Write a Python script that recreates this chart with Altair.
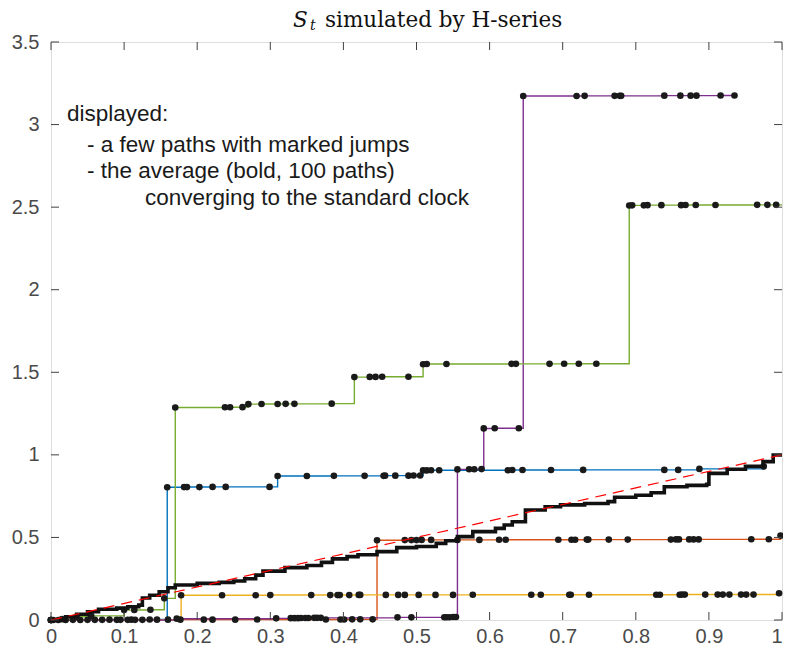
import altair as alt
import pandas as pd

# ---------------- data ----------------
x_ticks = [0, 0.1, 0.2, 0.3, 0.4, 0.5, 0.6, 0.7, 0.8, 0.9, 1]
y_ticks = [0, 0.5, 1, 1.5, 2, 2.5, 3, 3.5]

path_names = ["blue", "orange", "yellow", "purple", "green"]
path_colors = ["#0072BD", "#D95319", "#EDB120", "#7E2F8E", "#77AC30"]

blue_t = [0, 0.003, 0.03, 0.05, 0.08, 0.11, 0.135,
          0.159, 0.182, 0.186, 0.203, 0.221, 0.239, 0.299,
          0.310, 0.350, 0.387, 0.429, 0.455, 0.457, 0.471, 0.489, 0.496, 0.505,
          0.509, 0.514, 0.520, 0.531, 0.625, 0.631, 0.645, 0.684, 0.728, 0.839, 0.858,
          0.887, 0.975]
blue_v = [0, 0, 0.001, 0.001, 0.002, 0.002, 0.003,
          0.804, 0.805, 0.805, 0.805, 0.806, 0.806, 0.806,
          0.872, 0.872, 0.873, 0.873, 0.873, 0.874, 0.874, 0.874, 0.875, 0.875,
          0.906, 0.906, 0.907, 0.907, 0.907, 0.908, 0.908, 0.908, 0.909, 0.909, 0.909,
          0.915, 0.930]
blue_end = 0.975

orange_t = [0, 0.01, 0.04, 0.07, 0.09, 0.105, 0.125, 0.177, 0.209, 0.221, 0.252, 0.282,
            0.376, 0.396, 0.401, 0.412, 0.423, 0.440,
            0.446, 0.484, 0.493, 0.500, 0.507, 0.520, 0.556, 0.586, 0.613, 0.622, 0.694,
            0.712, 0.717, 0.733, 0.735, 0.763, 0.789, 0.848, 0.855, 0.859, 0.873, 0.879,
            0.886, 0.958, 0.982,
            0.998]
orange_v = [0, 0, 0, 0.001, 0.001, 0.001, 0.001, 0.002, 0.002, 0.002, 0.002, 0.003,
            0.003, 0.003, 0.003, 0.004, 0.004, 0.004,
            0.483, 0.484, 0.484, 0.484, 0.485, 0.485, 0.485, 0.485, 0.486, 0.486, 0.486,
            0.486, 0.486, 0.487, 0.487, 0.487, 0.487, 0.487, 0.488, 0.488, 0.488, 0.488,
            0.488, 0.489, 0.489,
            0.511]
orange_end = 1.0

yellow_t = [0, 0.02, 0.06, 0.095, 0.115, 0.145, 0.16,
            0.178, 0.234, 0.280, 0.300, 0.356, 0.382, 0.392, 0.395, 0.408, 0.421, 0.423,
            0.458, 0.475, 0.484, 0.503, 0.526, 0.550, 0.577, 0.657, 0.670, 0.709, 0.711,
            0.736, 0.828, 0.833, 0.860, 0.863, 0.867, 0.895, 0.912, 0.919, 0.928, 0.944,
            0.951, 0.961,
            0.996]
yellow_v = [0, 0, 0.001, 0.001, 0.001, 0.002, 0.002,
            0.150, 0.150, 0.150, 0.151, 0.151, 0.151, 0.151, 0.151, 0.151, 0.152, 0.152,
            0.152, 0.152, 0.152, 0.152, 0.152, 0.152, 0.153, 0.153, 0.153, 0.153, 0.153,
            0.153, 0.153, 0.153, 0.153, 0.154, 0.154, 0.154, 0.154, 0.154, 0.154, 0.154,
            0.154, 0.154,
            0.162]
yellow_end = 1.0

purple_t = [0, 0.172, 0.308, 0.328, 0.333, 0.338, 0.342, 0.348, 0.352, 0.360, 0.364,
            0.369, 0.474, 0.493, 0.538, 0.541, 0.545, 0.550, 0.554,
            0.556, 0.572, 0.579, 0.589,
            0.592, 0.607, 0.640,
            0.646, 0.719, 0.730, 0.771, 0.778, 0.780, 0.839, 0.861, 0.875, 0.883, 0.916,
            0.935]
purple_v = [0, 0.008, 0.010, 0.011, 0.011, 0.011, 0.012, 0.012, 0.012, 0.013, 0.013,
            0.013, 0.016, 0.016, 0.017, 0.017, 0.017, 0.018, 0.018,
            0.912, 0.913, 0.913, 0.914,
            1.160, 1.161, 1.161,
            3.173, 3.173, 3.174, 3.174, 3.174, 3.174, 3.175, 3.175, 3.175, 3.175, 3.176,
            3.176]
purple_end = 0.935

green_t = [0, 0.015, 0.035, 0.055, 0.1, 0.114, 0.136, 0.155,
           0.170, 0.238, 0.245, 0.262,
           0.270, 0.288, 0.310, 0.321, 0.333, 0.384,
           0.415, 0.436, 0.444, 0.453, 0.489,
           0.509, 0.514, 0.541, 0.630, 0.636, 0.682, 0.702, 0.722, 0.746,
           0.791, 0.795, 0.811, 0.816, 0.835, 0.862, 0.868, 0.882, 0.909, 0.966, 0.980,
           0.992]
green_v = [0, 0.005, 0.02, 0.025, 0.06, 0.061, 0.062, 0.131,
           1.287, 1.288, 1.288, 1.289,
           1.307, 1.308, 1.308, 1.309, 1.309, 1.310,
           1.471, 1.472, 1.472, 1.473, 1.473,
           1.549, 1.550, 1.550, 1.551, 1.551, 1.551, 1.552, 1.552, 1.552,
           2.510, 2.511, 2.511, 2.512, 2.512, 2.512, 2.513, 2.513, 2.513, 2.514, 2.514,
           2.514]
green_end = 1.0

avg_t = [0, 0.02, 0.035, 0.05, 0.065, 0.09, 0.105, 0.12, 0.125, 0.135, 0.148, 0.16,
         0.17, 0.2, 0.23, 0.25, 0.265, 0.28, 0.29, 0.32, 0.35, 0.37, 0.385, 0.405, 0.42,
         0.446, 0.473, 0.5, 0.527, 0.54, 0.556, 0.577, 0.608, 0.62, 0.631, 0.649, 0.676,
         0.697, 0.73, 0.762, 0.771, 0.8, 0.821, 0.839, 0.87, 0.897, 0.9, 0.925, 0.95,
         0.974, 0.988, 1.0]
avg_v = [0, 0.02, 0.035, 0.05, 0.065, 0.072, 0.08, 0.09, 0.133, 0.15, 0.171, 0.195,
         0.212, 0.222, 0.228, 0.236, 0.25, 0.272, 0.296, 0.317, 0.33, 0.349, 0.37, 0.384,
         0.395, 0.414, 0.438, 0.445, 0.464, 0.48, 0.505, 0.535, 0.555, 0.575, 0.595,
         0.666, 0.686, 0.697, 0.705, 0.717, 0.743, 0.755, 0.771, 0.807, 0.815, 0.822,
         0.888, 0.913, 0.93, 0.959, 0.999, 0.999]

clock_t = [0, 1]
clock_v = [0, 1]

# ---------------- tables ----------------
paths = {
    "blue": (blue_t, blue_v, blue_end),
    "orange": (orange_t, orange_v, orange_end),
    "yellow": (yellow_t, yellow_v, yellow_end),
    "purple": (purple_t, purple_v, purple_end),
    "green": (green_t, green_v, green_end),
}
line_rows, dot_rows = [], []
for order, name in enumerate(path_names):
    ts, vs, end = paths[name]
    for t, v in zip(ts, vs):
        line_rows.append({"path": name, "t": t, "v": v, "o": order})
        dot_rows.append({"path": name, "t": t, "v": v})
    line_rows.append({"path": name, "t": end, "v": vs[-1], "o": order})
lines_df = pd.DataFrame(line_rows)
dots_df = pd.DataFrame(dot_rows)
avg_df = pd.DataFrame({"t": avg_t, "v": avg_v})
clock_df = pd.DataFrame({"t": clock_t, "v": clock_v})
xt_df = pd.DataFrame({"t": x_ticks})
yt_df = pd.DataFrame({"v": y_ticks})

W, H = 731, 578
AX = "#404040"
LBL = "#4a4a4a"
SANS = "Liberation Sans"
SERIF = "DejaVu Serif"

xs = alt.Scale(domain=[0, 1], nice=False, zero=False)
ys = alt.Scale(domain=[0, 3.5], nice=False, zero=False)

x_axis = alt.Axis(values=x_ticks, format="~g", grid=False, ticks=False, tickSize=0,
                  domain=False, labelFontSize=20, labelFont=SANS, labelColor=LBL,
                  labelPadding=22, labelBaseline="alphabetic",
                  labelAlign={"condition": {"test": "datum.value >= 1", "value": "right"},
                              "value": "center"},
                  labelOverlap=False, labelFlush=False, title=None)
y_axis = alt.Axis(values=y_ticks, format="~g", grid=False, ticks=False, tickSize=0,
                  domain=False, labelFontSize=20, labelFont=SANS, labelColor=LBL,
                  labelPadding=12, labelOverlap=False, labelFlush=False, title=None)

lines = alt.Chart(lines_df).mark_line(interpolate="step-after", strokeWidth=1.4).encode(
    x=alt.X("t:Q", scale=xs, axis=x_axis),
    y=alt.Y("v:Q", scale=ys, axis=y_axis),
    color=alt.Color("path:N", scale=alt.Scale(domain=path_names, range=path_colors),
                    legend=None),
    order="o:Q",
)

dots = alt.Chart(dots_df).mark_circle(size=44, color="#1a1a1a", opacity=1).encode(
    x=alt.X("t:Q", scale=xs), y=alt.Y("v:Q", scale=ys)
)

avg = alt.Chart(avg_df).mark_line(interpolate="step-after", strokeWidth=3.6,
                                  color="#111111").encode(
    x=alt.X("t:Q", scale=xs), y=alt.Y("v:Q", scale=ys)
)

clock = alt.Chart(clock_df).mark_line(color="#ff0000", strokeWidth=1.2,
                                      strokeDash=[11, 7]).encode(
    x=alt.X("t:Q", scale=xs), y=alt.Y("v:Q", scale=ys)
)

# inside ticks on all four sides
TL = 8
tick_bottom = alt.Chart(xt_df).mark_rule(color=AX, strokeWidth=1).encode(
    x=alt.X("t:Q", scale=xs), y=alt.value(H), y2=alt.value(H - TL))
tick_top = alt.Chart(xt_df).mark_rule(color=AX, strokeWidth=1).encode(
    x=alt.X("t:Q", scale=xs), y=alt.value(0), y2=alt.value(TL))
tick_left = alt.Chart(yt_df).mark_rule(color=AX, strokeWidth=1).encode(
    y=alt.Y("v:Q", scale=ys), x=alt.value(0), x2=alt.value(TL))
tick_right = alt.Chart(yt_df).mark_rule(color=AX, strokeWidth=1).encode(
    y=alt.Y("v:Q", scale=ys), x=alt.value(W), x2=alt.value(W - TL))

# annotation text
def note(text, x, y):
    return alt.Chart(pd.DataFrame({"s": [text]})).mark_text(
        align="left", baseline="alphabetic", font=SANS, fontSize=22.5, color="#1a1a1a"
    ).encode(text="s:N", x=alt.value(x), y=alt.value(y))

notes = [
    note("displayed:", 16, 79),
    note("- a few paths with marked jumps", 36, 110),
    note("- the average (bold, 100 paths)", 36, 136),
    note("converging to the standard clock", 94, 163),
]

# title: S_t simulated by H-series
def ttl(text, x, y, size, style):
    return alt.Chart(pd.DataFrame({"s": [text]})).mark_text(
        align="left", baseline="alphabetic", font=SERIF, fontSize=size,
        fontStyle=style, color="#111111"
    ).encode(text="s:N", x=alt.value(x), y=alt.value(y))

titles = [
    ttl("S", 242, -15, 21.5, "italic"),
    ttl("t", 259, -12, 14, "italic"),
    ttl("simulated by H-series", 274, -15, 21.5, "normal"),
]

chart = alt.layer(
    lines, dots, avg, clock, tick_bottom, tick_top, tick_left, tick_right,
    *notes, *titles
).properties(
    width=W, height=H,
    autosize=alt.AutoSizeParams(type="none"),
    padding={"left": 43, "top": 34, "right": 1, "bottom": 28},
).configure_view(stroke=AX, strokeWidth=1).configure(background="white")

chart.save("out.html", embed_options={"renderer": "svg", "actions": False})
